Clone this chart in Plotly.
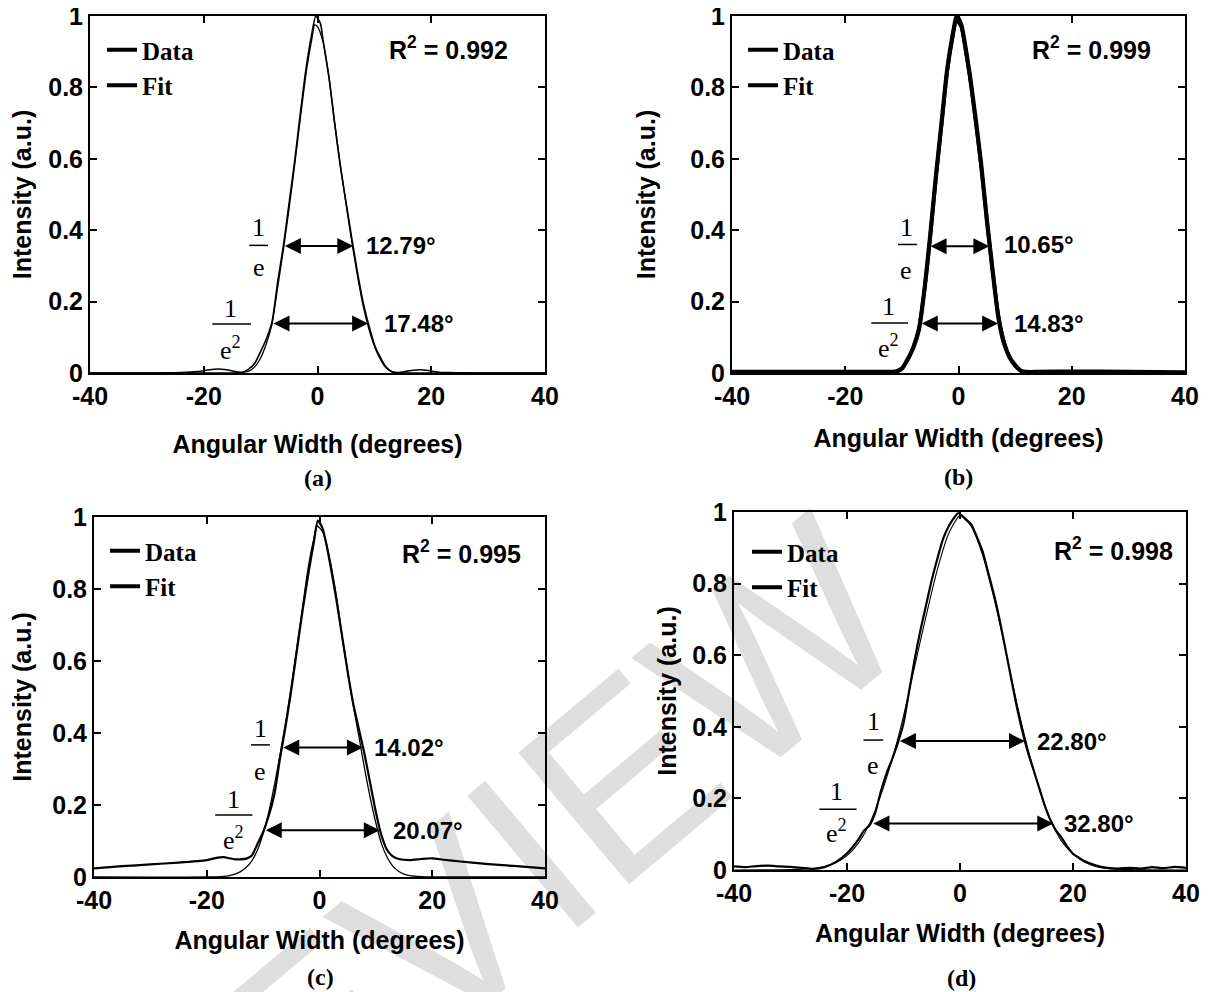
import plotly.graph_objects as go

W, H = 1208, 992
OFF = 8  # page margin of the browser: figure pixel = screen pixel - OFF
SANS = "Liberation Sans, Arial, Helvetica, sans-serif"
SERIF = "Liberation Serif, Times New Roman, serif"

# ---------------- data ----------------
a_data_x = [-40, -30, -24, -21, -19, -17.5, -16, -14.5, -13.5, -13, -12, -11, -10, -9, -8, -7, -6, -5, -4, -3, -2, -1, -0.3,
            0.5, 1, 2, 3, 4, 5, 6, 7, 8, 9, 10, 11, 12, 13, 14, 15, 16.5, 18, 19.5, 21, 23, 30, 40]
a_data_y = [0, 0, 0.001, 0.004, 0.009, 0.011, 0.009, 0.004, 0.002, 0.003, 0.012, 0.028, 0.06, 0.095, 0.143, 0.255, 0.356, 0.475, 0.595, 0.73, 0.855, 0.95, 1.0,
            0.98, 0.93, 0.83, 0.70, 0.58, 0.48, 0.38, 0.285, 0.2, 0.135, 0.08, 0.045, 0.018, 0.004, 0.001, 0.003, 0.007, 0.009, 0.007, 0.003, 0.001, 0, 0]
a_fit_x = [-40, -16, -14, -13, -12, -11, -10, -9, -8, -7, -6, -5, -4, -3, -2, -1, -0.5,
           0, 1, 2, 3, 4, 5, 6, 7, 8, 9, 10, 11, 12, 13, 14, 16, 40]
a_fit_y = [0, 0, 0.001, 0.002, 0.006, 0.018, 0.042, 0.082, 0.137, 0.24, 0.345, 0.46, 0.585, 0.715, 0.84, 0.935, 0.975,
           0.97, 0.925, 0.83, 0.705, 0.585, 0.475, 0.37, 0.275, 0.19, 0.125, 0.075, 0.04, 0.015, 0.004, 0.001, 0, 0]

b_data_x = [-40, -30, -20, -14, -12, -11, -10, -9, -8, -7, -6, -5, -4, -3, -2, -1, -0.3,
            0.5, 1, 2, 3, 4, 5, 6, 7, 8, 9, 10, 11, 12, 14, 20, 30, 40]
b_data_y = [0.003, 0.003, 0.003, 0.003, 0.003, 0.004, 0.012, 0.038, 0.07, 0.12, 0.235, 0.385, 0.55, 0.70, 0.85, 0.95, 1.0,
            0.975, 0.935, 0.835, 0.715, 0.585, 0.43, 0.29, 0.16, 0.085, 0.045, 0.022, 0.006, 0.003, 0.003, 0.004, 0.003, 0.002]
b_fit_x = [-40, -20, -13, -12, -11, -10, -9, -8, -7, -6, -5, -4, -3, -2, -1, -0.4,
           0.5, 1, 2, 3, 4, 5, 6, 7, 8, 9, 10, 11, 12, 13, 20, 40]
b_fit_y = [0, 0, 0.001, 0.002, 0.005, 0.014, 0.036, 0.072, 0.125, 0.235, 0.38, 0.545, 0.695, 0.845, 0.945, 0.99,
           0.97, 0.93, 0.83, 0.71, 0.58, 0.43, 0.29, 0.165, 0.09, 0.045, 0.02, 0.007, 0.002, 0.001, 0, 0]

c_data_x = [-40, -35, -30, -25, -20, -18, -17, -16, -15, -14, -13, -12, -11, -10, -9, -8, -7, -6, -5, -4, -3, -2, -1, -0.3,
            0.5, 1, 2, 3, 4, 5, 6, 7, 8, 9, 10, 11, 12, 13, 14, 16, 18, 20, 22, 25, 30, 35, 40]
c_data_y = [0.024, 0.03, 0.035, 0.04, 0.047, 0.054, 0.055, 0.052, 0.049, 0.049, 0.051, 0.06, 0.092, 0.125, 0.17, 0.23, 0.33, 0.42, 0.52, 0.63, 0.74, 0.84, 0.93, 0.99,
            0.97, 0.94, 0.86, 0.77, 0.67, 0.57, 0.48, 0.41, 0.34, 0.26, 0.18, 0.115, 0.075, 0.057, 0.05, 0.047, 0.05, 0.052, 0.048, 0.043, 0.036, 0.03, 0.024]
c_fit_x = [-40, -20, -17, -16, -15, -14, -13, -12, -11, -10, -9, -8, -7, -6, -5, -4, -3, -2, -1, -0.4,
           0.5, 1, 2, 3, 4, 5, 6, 7, 8, 9, 10, 11, 12, 13, 14, 15, 16, 18, 20, 40]
c_fit_y = [0, 0, 0.002, 0.004, 0.008, 0.015, 0.027, 0.045, 0.075, 0.12, 0.18, 0.255, 0.34, 0.43, 0.53, 0.64, 0.75, 0.86, 0.94, 0.975,
           0.96, 0.94, 0.87, 0.78, 0.67, 0.57, 0.475, 0.39, 0.30, 0.22, 0.15, 0.092, 0.055, 0.03, 0.016, 0.008, 0.004, 0.001, 0, 0]

d_data_x = [-40, -38, -36, -34, -32, -30, -28, -26, -24, -22, -20, -18, -17, -16, -15, -14, -13, -12, -11, -10, -9, -8, -7, -6, -5,
            -4, -3, -2, -1, -0.3, 1, 2, 3, 4, 5, 6, 7, 8, 9, 10, 11, 12, 13, 14, 15, 16, 17, 18, 19, 20, 21, 22, 24, 26, 28,
            30, 32, 34, 36, 38, 40]
d_data_y = [0.010, 0.008, 0.011, 0.012, 0.010, 0.009, 0.006, 0.003, 0.008, 0.022, 0.047, 0.085, 0.11, 0.125, 0.16, 0.22, 0.27, 0.31, 0.355, 0.41, 0.50, 0.59, 0.67, 0.74, 0.81,
            0.87, 0.925, 0.96, 0.985, 0.997, 0.98, 0.965, 0.93, 0.89, 0.83, 0.77, 0.70, 0.62, 0.54, 0.46, 0.39, 0.33, 0.28, 0.23, 0.18, 0.14, 0.11, 0.09, 0.065, 0.045, 0.035, 0.025, 0.013, 0.006, 0.004,
            0.006, 0.004, 0.008, 0.005, 0.009, 0.006]
d_fit_x = [-40, -30, -26, -24, -22, -20, -18, -16, -14, -12, -10, -8, -6, -4, -2, 0, 2, 4, 6, 8, 10, 12, 14, 16, 18, 20, 22, 24, 26, 30, 40]
d_fit_y = [0, 0.001, 0.004, 0.01, 0.02, 0.04, 0.075, 0.13, 0.21, 0.31, 0.43, 0.57, 0.71, 0.84, 0.94, 0.99, 0.96, 0.88, 0.76, 0.62, 0.47, 0.34, 0.23, 0.14, 0.08, 0.045, 0.022, 0.01, 0.004, 0.001, 0]

r2_text = ["0.992", "0.999", "0.995", "0.998"]
width_1e = ["12.79", "10.65", "14.02", "22.80"]
width_1e2 = ["17.48", "14.83", "20.07", "32.80"]
captions = ["(a)", "(b)", "(c)", "(d)"]
x_ticks = [-40, -20, 0, 20, 40]
x_ticktext = ["-40", "-20", "0", "20", "40"]
y_ticks = [0, 0.2, 0.4, 0.6, 0.8, 1]
y_ticktext = ["0", "0.2", "0.4", "0.6", "0.8", "1"]


def px_x(px):
    return (px - OFF) / W


def px_y(py):
    return 1 - (py - OFF) / H


# ---------------- layout geometry (screen pixels of the reference) ----------------
panels = [
    dict(xs="x", ys="y", box=(90, 545, 16, 373), leg="legend",
         data=(a_data_x, a_data_y), fit=(a_fit_x, a_fit_y), wd=1.6, wf=1.3,
         r2=(23.1, 0.911), arr1=(-6.0, 6.3, 0.356), arr2=(-8.0, 8.9, 0.139),
         lab1=(8.2, 0.356), lab2=(11.3, 0.139),
         f1=(-10.3, 0.408, 0.296, -12.0, -8.7, 0.3575),
         f2=(-15.3, 0.182, 0.070, -18.5, -11.7, 0.137),
         legpx=(102, 27), cap=(318, 478), xstand=26, ystand=13),
    dict(xs="x2", ys="y2", box=(732, 1185, 16, 373), leg="legend2",
         data=(b_data_x, b_data_y), fit=(b_fit_x, b_fit_y), wd=4.2, wf=3.6,
         r2=(23.4, 0.911), arr1=(-5.2, 5.45, 0.355), arr2=(-6.75, 7.0, 0.139),
         lab1=(7.7, 0.36), lab2=(9.4, 0.139),
         f1=(-9.2, 0.408, 0.288, -10.7, -7.3, 0.36),
         f2=(-12.3, 0.187, 0.073, -15.4, -8.9, 0.14),
         legpx=(743, 27), cap=(958, 477), xstand=20, ystand=27),
    dict(xs="x3", ys="y3", box=(94, 545, 517, 877), leg="legend3",
         data=(c_data_x, c_data_y), fit=(c_fit_x, c_fit_y), wd=2.2, wf=1.3,
         r2=(25.1, 0.903), arr1=(-6.7, 7.7, 0.36), arr2=(-9.8, 10.7, 0.13),
         lab1=(9.4, 0.36), lab2=(12.6, 0.13),
         f1=(-10.55, 0.413, 0.2925, -12.15, -8.8, 0.367),
         f2=(-15.3, 0.214, 0.108, -18.5, -11.9, 0.172),
         legpx=(105, 528), cap=(320, 977), xstand=18, ystand=15),
    dict(xs="x4", ys="y4", box=(734, 1186, 512, 870), leg="legend4",
         data=(d_data_x, d_data_y), fit=(d_fit_x, d_fit_y), wd=2.2, wf=1.1,
         r2=(27.1, 0.897), arr1=(-10.9, 11.5, 0.36), arr2=(-15.6, 16.5, 0.13),
         lab1=(13.3, 0.36), lab2=(18.1, 0.13),
         f1=(-15.35, 0.414, 0.293, -17.1, -13.6, 0.363),
         f2=(-21.8, 0.219, 0.107, -24.9, -18.3, 0.170),
         legpx=(747, 529), cap=(961, 978), xstand=18, ystand=8),
]

fig = go.Figure()
annotations = []
shapes = []
layout = dict(width=W, height=H, margin=dict(l=0, r=0, t=0, b=0, autoexpand=False),
              paper_bgcolor="white", plot_bgcolor="rgba(0,0,0,0)",
              showlegend=True)

axis_common = dict(showline=True, linecolor="black", linewidth=2, mirror="ticks",
                   ticks="inside", ticklen=7, tickwidth=1.5, tickcolor="black",
                   showgrid=False, zeroline=False, automargin=False, ticklabeloverflow="allow",
                   tickfont=dict(family=SANS, size=25, color="black", weight="bold"))

for i, p in enumerate(panels):
    l, r, t, b = p["box"]
    xs, ys = p["xs"], p["ys"]
    xkey = "xaxis" if xs == "x" else "xaxis" + xs[1:]
    ykey = "yaxis" if ys == "y" else "yaxis" + ys[1:]
    layout[xkey] = dict(axis_common, domain=[px_x(l), px_x(r)], anchor=ys, range=[-40, 40],
                        tickvals=x_ticks, ticktext=x_ticktext,
                        title=dict(text="Angular Width (degrees)", standoff=p["xstand"],
                                   font=dict(family=SANS, size=25, color="black", weight="bold")))
    layout[ykey] = dict(axis_common, domain=[px_y(b), px_y(t)], anchor=xs, range=[0, 1],
                        tickvals=y_ticks, ticktext=y_ticktext, ticklabelstandoff=0,
                        title=dict(text="Intensity (a.u.)", standoff=p["ystand"],
                                   font=dict(family=SANS, size=25, color="black", weight="bold")))
    lx, ly = p["legpx"]
    layout[p["leg"]] = dict(x=px_x(lx), y=px_y(ly), xanchor="left", yanchor="top",
                            bgcolor="rgba(0,0,0,0)", borderwidth=0, traceorder="normal",
                            tracegroupgap=0, itemwidth=30,
                            font=dict(family=SERIF, size=25, color="black", weight="bold"))

    g = "abcd"[i]
    fig.add_trace(go.Scatter(x=p["data"][0], y=p["data"][1], mode="lines", name="Data",
                             line=dict(color="black", width=p["wd"], shape="spline", smoothing=0.6),
                             xaxis=xs, yaxis=ys, showlegend=False, legendgroup=g + "data", legend=p["leg"]))
    fig.add_trace(go.Scatter(x=p["fit"][0], y=p["fit"][1], mode="lines", name="Fit",
                             line=dict(color="black", width=p["wf"], shape="spline", smoothing=0.6),
                             xaxis=xs, yaxis=ys, showlegend=False, legendgroup=g + "fit", legend=p["leg"]))
    fig.add_trace(go.Scatter(x=[None], y=[None], mode="lines", name="Data",
                             line=dict(color="black", width=4), xaxis=xs, yaxis=ys,
                             legendgroup=g + "data", legend=p["leg"]))
    fig.add_trace(go.Scatter(x=[None], y=[None], mode="lines", name="Fit",
                             line=dict(color="black", width=4), xaxis=xs, yaxis=ys,
                             legendgroup=g + "fit", legend=p["leg"]))

    annotations.append(dict(x=p["r2"][0], y=p["r2"][1], xref=xs, yref=ys, showarrow=False,
                            xanchor="center", yanchor="middle",
                            text="<b>R<sup>2</sup> = " + r2_text[i] + "</b>",
                            font=dict(family=SANS, size=25, color="black")))
    for (x0, x1, yv) in (p["arr1"], p["arr2"]):
        annotations.append(dict(x=x1, y=yv, ax=x0, ay=yv, xref=xs, yref=ys, axref=xs, ayref=ys,
                                text="", showarrow=True, arrowhead=2, arrowside="end+start",
                                arrowsize=1.6, arrowwidth=2, arrowcolor="black",
                                standoff=0, startstandoff=0))
    for (lx_, ly_), txt in ((p["lab1"], width_1e[i]), (p["lab2"], width_1e2[i])):
        annotations.append(dict(x=lx_, y=ly_, xref=xs, yref=ys, showarrow=False,
                                xanchor="left", yanchor="middle",
                                text="<b>" + txt + "°</b>",
                                font=dict(family=SANS, size=24, color="black")))
    for f, den in ((p["f1"], "e"), (p["f2"], "e<sup>2</sup>")):
        fx, fy_num, fy_den, bx0, bx1, by = f
        annotations.append(dict(x=fx, y=fy_num, xref=xs, yref=ys, showarrow=False, text="1",
                                xanchor="center", yanchor="middle",
                                font=dict(family=SERIF, size=26, color="black")))
        annotations.append(dict(x=fx, y=fy_den, xref=xs, yref=ys, showarrow=False, text=den,
                                xanchor="center", yanchor="middle",
                                font=dict(family=SERIF, size=26, color="black")))
        shapes.append(dict(type="line", xref=xs, yref=ys, x0=bx0, x1=bx1, y0=by, y1=by,
                           line=dict(color="black", width=1.5)))
    cx, cy = p["cap"]
    annotations.append(dict(x=px_x(cx), y=px_y(cy), xref="paper", yref="paper", showarrow=False,
                            xanchor="center", yanchor="middle",
                            text="<b>" + captions[i] + "</b>",
                            font=dict(family=SERIF, size=24, color="black")))

# watermark (drawn beneath the curves)
shapes.append(dict(type="rect", xref="paper", yref="paper", x0=0.255, x1=0.515, y0=-0.02, y1=0.28,
                   line=dict(width=0), fillcolor="rgba(0,0,0,0)", layer="below",
                   label=dict(text="REVIEW", textangle=-40, textposition="middle center",
                              font=dict(family=SANS, size=250, color="#dedede"))))

layout["annotations"] = annotations
layout["shapes"] = shapes
fig.update_layout(**layout)
fig.write_html("out.html")
